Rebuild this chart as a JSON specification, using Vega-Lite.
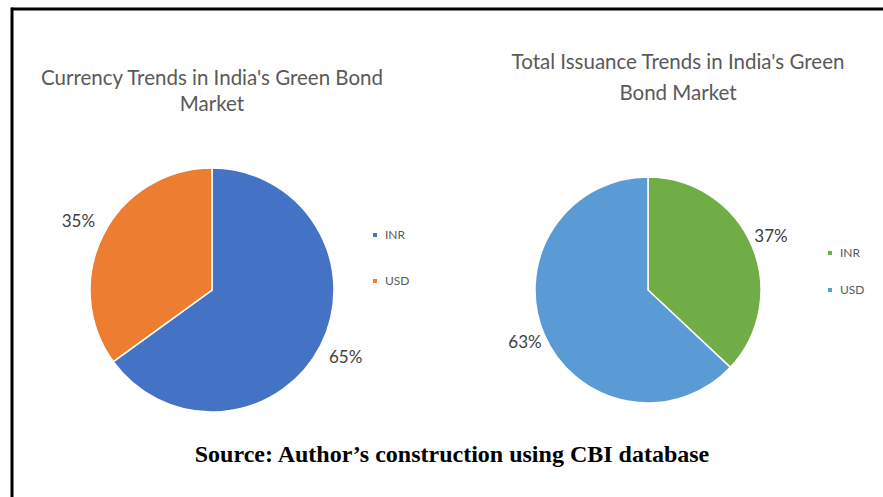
{
  "$schema": "https://vega.github.io/schema/vega-lite/v6.json",
  "padding": {"left": 10, "top": 7, "right": 0, "bottom": 0},
  "background": "white",
  "config": {"view": {"stroke": null}, "font": "Lato"},
  "datasets": {
    "empty": [],
    "currency": [
      {"currency": "INR", "share": 0.65},
      {"currency": "USD", "share": 0.35}
    ],
    "issuance": [
      {"currency": "INR", "share": 0.37},
      {"currency": "USD", "share": 0.63}
    ],
    "note": [{"text": "Source: Author’s construction using CBI database"}]
  },
  "bounds": "flush",
  "spacing": 0,
  "hconcat": [
    {
      "width": 0.01, "height": 500,
      "data": {"name": "empty"},
      "mark": "rule",
      "encoding": {},
      "view": {"stroke": "black", "strokeWidth": 3}
    },
    {
      "bounds": "flush",
      "spacing": 161,
      "vconcat": [
        {
          "width": 880, "height": 0.01,
          "data": {"name": "empty"},
          "mark": "rule",
          "encoding": {},
          "view": {"stroke": "black", "strokeWidth": 3}
        },
        {
          "bounds": "flush",
          "spacing": 269,
          "vconcat": [
            {
              "bounds": "flush",
              "spacing": 0,
              "resolve": {"scale": {"color": "independent"}, "legend": {"color": "independent"}},
              "hconcat": [
                {
                  "width": 398, "height": 238,
                  "data": {"name": "currency"},
                  "title": {"text": ["Currency Trends in India's Green Bond", "Market"], "font": "Lato", "fontSize": 20.5, "fontWeight": "normal", "color": "#595959", "offset": 50, "lineHeight": 26, "anchor": "middle"},
                  "encoding": {
                    "theta": {"field": "share", "type": "quantitative", "stack": true},
                    "order": {"field": "currency", "sort": "ascending"},
                    "color": {
                      "field": "currency", "type": "nominal",
                      "scale": {"domain": ["INR", "USD"], "range": ["#4472C4", "#ED7D31"]},
                      "legend": {"title": null, "orient": "none", "legendX": 356, "legendY": 58, "symbolType": "square", "symbolSize": 30, "labelFontSize": 12, "labelColor": "#595959", "labelFont": "Lato", "rowPadding": 34, "padding": 0}
                    }
                  },
                  "layer": [
                    {"mark": {"type": "arc", "outerRadius": 122, "stroke": "white", "strokeWidth": 1.5}},
                    {
                      "mark": {"type": "text", "radius": 150, "fontSize": 17, "font": "Lato"},
                      "encoding": {
                        "color": {"value": "#404040"},
                        "detail": {"field": "currency", "type": "nominal"},
                        "text": {"field": "share", "type": "quantitative", "format": ".0%"}
                      }
                    }
                  ]
                },
                {
                  "width": 474, "height": 238,
                  "data": {"name": "issuance"},
                  "title": {"text": ["Total Issuance Trends in India's Green", "Bond Market"], "font": "Lato", "fontSize": 20.5, "fontWeight": "normal", "color": "#595959", "offset": 67, "lineHeight": 31, "anchor": "middle", "dx": 30},
                  "encoding": {
                    "theta": {"field": "share", "type": "quantitative", "stack": true},
                    "order": {"field": "currency", "sort": "ascending"},
                    "color": {
                      "field": "currency", "type": "nominal",
                      "scale": {"domain": ["INR", "USD"], "range": ["#70AD47", "#5B9BD5"]},
                      "legend": {"title": null, "orient": "none", "legendX": 413, "legendY": 76, "symbolType": "square", "symbolSize": 30, "labelFontSize": 12, "labelColor": "#595959", "labelFont": "Lato", "rowPadding": 25, "padding": 0}
                    }
                  },
                  "layer": [
                    {"mark": {"type": "arc", "outerRadius": 113, "stroke": "white", "strokeWidth": 1.5}},
                    {
                      "mark": {"type": "text", "radius": 134, "fontSize": 17, "font": "Lato"},
                      "encoding": {
                        "color": {"value": "#404040"},
                        "detail": {"field": "currency", "type": "nominal"},
                        "text": {"field": "share", "type": "quantitative", "format": ".0%"}
                      }
                    }
                  ]
                }
              ]
            },
            {
              "width": 878, "height": 30,
              "data": {"name": "note"},
              "mark": {"type": "text", "font": "Liberation Serif", "fontSize": 24, "fontWeight": "bold", "color": "black"},
              "encoding": {"text": {"field": "text", "type": "nominal"}}
            }
          ]
        }
      ]
    }
  ]
}
